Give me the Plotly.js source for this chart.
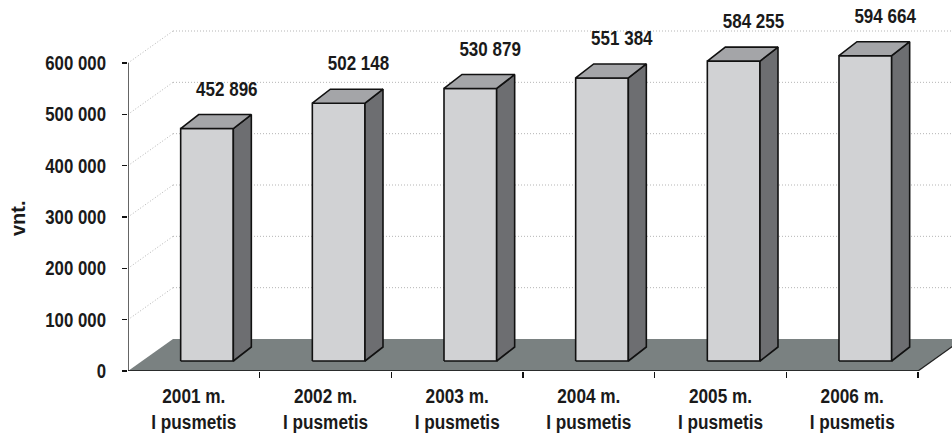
<!DOCTYPE html>
<html>
<head>
<meta charset="utf-8">
<script src="https://cdn.plot.ly/plotly-3.0.1.min.js"></script>
<style>
html,body{margin:0;padding:0;background:#fff;}
#chart{width:952px;height:437px;}
</style>
</head>
<body>
<div id="chart"></div>
<script>
// ---- data ----
const years = ["2001 m.", "2002 m.", "2003 m.", "2004 m.", "2005 m.", "2006 m."];
const period = ["I pusmetis", "I pusmetis", "I pusmetis", "I pusmetis", "I pusmetis", "I pusmetis"];
const values = [452896, 502148, 530879, 551384, 584255, 594664];
const yTicks = [0, 100000, 200000, 300000, 400000, 500000, 600000];
const yTickText = ["0", "100 000", "200 000", "300 000", "400 000", "500 000", "600 000"];
const yTitle = "vnt.";

// ---- geometry (pixel-based projection onto data units) ----
const W = 952, H = 437;
const mL = 128, mR = 0, mT = 0, mB = 66;
const catPx = 790 / 6;                    // pixels per category
const valPerPx = 600000 / 308;            // value units per pixel
const plotW = W - mL - mR, plotH = H - mT - mB;
const xr = [-0.5, -0.5 + plotW / catPx];
const yr = [0, plotH * valPerPx];
const px = p => p / catPx;                // px -> category units
const py = p => p * valPerPx;             // px -> value units

const floorDX = px(45), floorDY = py(32);
const barL = -0.1, barR = 0.3;            // front face relative to category centre
const base0 = py(10);
const barDX = px(18), barDY = py(14);

const fmt = v => String(v).replace(/\B(?=(\d{3})+(?!\d))/g, " ");
const FONT = '"Liberation Sans", Arial, sans-serif';

// bar faces
const faceFront = {x: [], y: []}, faceSide = {x: [], y: []}, faceTop = {x: [], y: []};
values.forEach((v, i) => {
  const l = i + barL, r = i + barR, b = base0, t = base0 + v;
  faceFront.x.push(l, r, r, l, l, null); faceFront.y.push(b, b, t, t, b, null);
  faceSide.x.push(r, r + barDX, r + barDX, r, r, null); faceSide.y.push(b, b + barDY, t + barDY, t, b, null);
  faceTop.x.push(l, r, r + barDX, l + barDX, l, null); faceTop.y.push(t, t, t + barDY, t + barDY, t, null);
});
const faceTrace = (f, color) => ({
  type: "scatter", mode: "lines", x: f.x, y: f.y, fill: "toself", fillcolor: color,
  line: {color: "#111", width: 1.6}, hoverinfo: "skip", showlegend: false
});

const labelTrace = {
  type: "scatter", mode: "text",
  x: values.map((v, i) => i + px(33)),
  y: values.map(v => base0 + v + barDY + py(24)),
  text: values.map(fmt),
  textposition: "middle center",
  textfont: {family: FONT, size: 21, color: "#1a1a1a", weight: "bold"},
  cliponaxis: false, hoverinfo: "skip", showlegend: false
};

// shapes: floor, back-wall gridlines, axis lines
const shapes = [];
const gridLine = {color: "#b5b5b5", width: 1, dash: "1px,2px"};
yTicks.filter(v => v > 0).forEach(v => {
  shapes.push({type: "line", xref: "x", yref: "y", layer: "below",
    x0: -0.5, y0: v, x1: -0.5 + floorDX, y1: v + floorDY, line: gridLine});
  shapes.push({type: "line", xref: "x", yref: "y", layer: "below",
    x0: -0.5 + floorDX, y0: v + floorDY, x1: xr[1] + 1, y1: v + floorDY, line: gridLine});
});
const n = values.length;
shapes.push({type: "path", xref: "x", yref: "y", layer: "below",
  path: `M ${-0.5} 0 L ${n - 0.5} 0 L ${n - 0.5 + floorDX} ${floorDY} L ${-0.5 + floorDX} ${floorDY} Z`,
  fillcolor: "#7a8181", line: {width: 0}});
shapes.push({type: "line", xref: "x", yref: "y", layer: "below",
  x0: n - 0.5, y0: 0, x1: n - 0.5 + floorDX, y1: floorDY, line: {color: "#222", width: 1.3}});
shapes.push({type: "line", xref: "x", yref: "y", layer: "below",
  x0: -0.5, y0: 0, x1: n - 0.5, y1: 0, line: {color: "#111", width: 1.6}});
shapes.push({type: "line", xref: "x", yref: "y", layer: "below",
  x0: -0.5, y0: 0, x1: -0.5, y1: 600000, line: {color: "#111", width: 1.3}});

const layout = {
  width: W, height: H,
  margin: {l: mL, r: mR, t: mT, b: mB, pad: 0},
  paper_bgcolor: "#fff", plot_bgcolor: "#fff",
  showlegend: false,
  xaxis: {
    range: xr, showgrid: false, zeroline: false, showline: false,
    tickmode: "array", tickvals: years.map((_, i) => i),
    ticktext: years.map((y, i) => y + "<br>" + period[i]),
    ticks: "", ticklabelstandoff: 11,
    tickfont: {family: FONT, size: 20, color: "#1a1a1a", weight: "bold"},
    fixedrange: true
  },
  xaxis2: {
    overlaying: "x", matches: "x", range: xr, side: "bottom", anchor: "y",
    showgrid: false, zeroline: false, showline: false, showticklabels: false,
    tickmode: "array", tickvals: years.map((_, i) => i + 0.5),
    ticks: "outside", ticklen: 6, tickwidth: 1.2, tickcolor: "#111"
  },
  yaxis: {
    range: yr, showgrid: false, zeroline: false, showline: false,
    tickmode: "array", tickvals: yTicks, ticktext: yTickText,
    ticks: "outside", ticklen: 5, tickwidth: 1.2, tickcolor: "#111",
    ticklabelstandoff: 12,
    tickfont: {family: FONT, size: 20, color: "#1a1a1a", weight: "bold"},
    fixedrange: true
  },
  shapes: shapes,
  annotations: [{
    text: yTitle, xref: "paper", yref: "y", x: (18 - mL) / plotW, y: 300000 + py(-1),
    xanchor: "center", yanchor: "middle", textangle: -90, showarrow: false,
    font: {family: FONT, size: 20, color: "#1a1a1a", weight: "bold"}
  }]
};

const data = [
  faceTrace(faceFront, "#d1d2d4"),
  faceTrace(faceSide, "#6d6e71"),
  faceTrace(faceTop, "#a4a5a8"),
  labelTrace,
  {type: "scatter", x: [0], y: [0], xaxis: "x2", mode: "markers", marker: {opacity: 0}, hoverinfo: "skip", showlegend: false}
];

// condense text horizontally (the original uses a narrow typeface)
function condense(root, selector, factor) {
  root.querySelectorAll(selector).forEach(el => {
    const lines = el.querySelectorAll("tspan.line");
    const targets = lines.length ? Array.from(lines) : [el];
    targets.forEach(t => {
      const len = t.getComputedTextLength();
      if (len > 0) {
        t.setAttribute("textLength", (len * factor).toFixed(2));
        t.setAttribute("lengthAdjust", "spacingAndGlyphs");
      }
    });
  });
}

const gd = document.getElementById("chart");
Plotly.newPlot(gd, data, layout, {displayModeBar: false, staticPlot: true}).then(() => {
  condense(gd, "g.ytick text", 0.84);
  condense(gd, "g.xtick text", 0.86);
  condense(gd, "g.textpoint text", 0.81);
});
</script>
</body>
</html>
